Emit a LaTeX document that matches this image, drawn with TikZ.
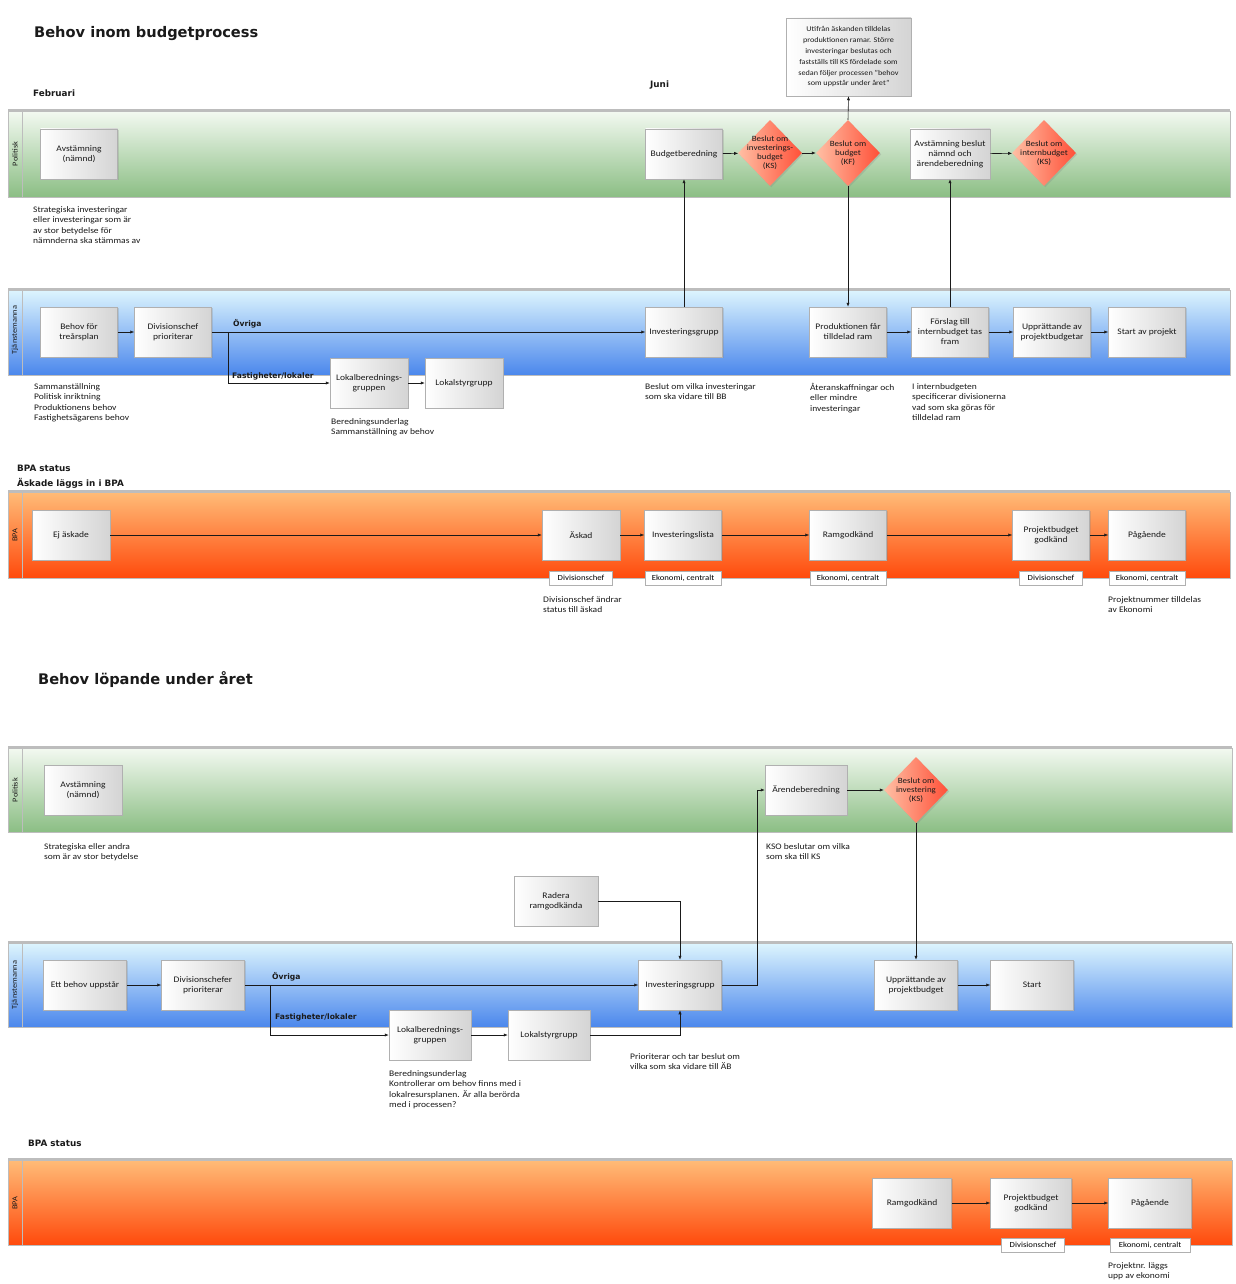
\documentclass[tikz,border=0pt]{standalone}
\usepackage{fontspec}
\setmainfont{Carlito}[FakeStretch=1.12]
\newfontfamily\headfont{DejaVu Sans}
\usepackage{tikz}
\usetikzlibrary{arrows.meta, positioning, shapes.geometric, shadows}
\definecolor{Dark}{HTML}{1A1A1A}
\definecolor{BoxLine}{HTML}{B0B0B0}
\definecolor{BoxGray}{HTML}{D4D4D4}
\definecolor{LaneLine}{HTML}{BDBDBD}
\definecolor{GreenTop}{HTML}{F3F9F1}
\definecolor{GreenBot}{HTML}{8BBE84}
\definecolor{BlueTop}{HTML}{DDF5FE}
\definecolor{BlueBot}{HTML}{4B87EC}
\definecolor{OrangeTop}{HTML}{FFBC78}
\definecolor{OrangeBot}{HTML}{FF4A0C}
\definecolor{DiaLight}{HTML}{FFBFA4}
\definecolor{DiaDark}{HTML}{FF5038}
\tikzset{
  box/.style={
    rectangle, draw=BoxLine, line width=0.5pt,
    left color=white, right color=BoxGray,
    minimum width=#1, minimum height=50,
    align=center, inner sep=1pt, text=Dark,
    font=\fontsize{8.5}{10}\selectfont,
    drop shadow={shadow xshift=1.3pt, shadow yshift=-1.3pt, opacity=0.25}
  },
  box/.default=77,
  dia/.style={
    diamond, draw=none, left color=DiaLight, right color=DiaDark,
    minimum width=64, minimum height=66, inner sep=0pt,
    drop shadow={shadow xshift=1.3pt, shadow yshift=-1.3pt, opacity=0.25}
  },
  diatext/.style={align=center, inner sep=0pt, text=Dark, font=\fontsize{8}{9}\selectfont},
  tag/.style={
    rectangle, draw=BoxLine, fill=white, line width=0.5pt,
    minimum width=#1, minimum height=14, inner sep=1pt,
    font=\fontsize{7.8}{8.5}\selectfont
  },
  tag/.default=63,
  note/.style={anchor=north west, inner sep=0pt, align=left, text=Dark, font=\fontsize{8.5}{10.6}\selectfont},
  flowlbl/.style={anchor=south west, inner sep=0pt, text=Dark, font=\headfont\bfseries\fontsize{7.6}{8}\selectfont},
  period/.style={anchor=west, inner sep=0pt, text=Dark, font=\headfont\bfseries\fontsize{8.8}{10}\selectfont},
  heading/.style={anchor=west, inner sep=0pt, text=Dark, font=\headfont\bfseries\fontsize{14.6}{17}\selectfont},
  lanelbl/.style={rotate=90, inner sep=0pt, text=Dark, font=\fontsize{7.5}{8}\selectfont},
  arr/.style={-{Latex[length=4pt, width=3.2pt]}, line width=0.6pt, color=Dark},
  plain/.style={line width=0.6pt, color=Dark},
}
\begin{document}
\begin{tikzpicture}[x=1pt, y=-1pt]
\useasboundingbox (0,0) rectangle (1235,1284);
\fill[white] (0,0) rectangle (1235,1284);

% ---------- Behov inom budgetprocess ----------
\node[heading] (title1) at (34,34) {Behov inom budgetprocess};
\node[period] (feb) at (33,93) {Februari};
\node[period] (jun) at (650,85) {Juni};

% lanes
\shade[top color=GreenTop, bottom color=GreenBot] (8,111) rectangle (1230,197);
\draw[LaneLine] (8,111) rectangle (1230,197) (22,111) -- (22,197);
\draw[LaneLine, line width=1.2pt] (8,110) -- (1230,110);
\node[lanelbl] (lane1) at (15,154) {Politisk};

\shade[top color=BlueTop, bottom color=BlueBot] (8,290) rectangle (1230,375);
\draw[LaneLine] (8,290) rectangle (1230,375) (22,290) -- (22,375);
\draw[LaneLine, line width=1.2pt] (8,289) -- (1230,289);
\node[lanelbl] (lane2) at (15,330) {Tjänstemanna};

\shade[top color=OrangeTop, bottom color=OrangeBot] (8,492) rectangle (1230,578);
\draw[LaneLine] (8,492) rectangle (1230,578) (22,492) -- (22,578);
\draw[LaneLine, line width=1.2pt] (8,491) -- (1230,491);
\node[lanelbl] (lane3) at (15,535) {BPA};

% Politisk
\node[box] (avst1) at (79,154) {Avstämning\\(nämnd)};
\node[box] (budg) at (684,154) {Budgetberedning};
\node[dia] (dinv) at (770,153) {};
\node[diatext] at (dinv) {Beslut om\\investerings-\\budget\\(KS)};
\node[dia] (dbud) at (848,153) {};
\node[diatext] at (dbud) {Beslut om\\budget\\(KF)};
\node[box=80] (avbes) at (950,154) {Avstämning beslut\\nämnd och\\ärendeberedning};
\node[dia] (dint) at (1044,153) {};
\node[diatext] at (dint) {Beslut om\\internbudget\\(KS)};
\node[box=125, minimum height=78, font=\fontsize{7.3}{10.8}\selectfont] (info) at (848.5,57)
  {Utifrån äskanden tilldelas\\produktionen ramar. Större\\investeringar beslutas och\\fastställs till KS fördelade som\\sedan följer processen "behov\\som uppstår under året"};

\node[note] (n1) at (33,206) {Strategiska investeringar\\eller investeringar som är\\av stor betydelse för\\nämnderna ska stämmas av};

% Tjänstemanna
\node[box] (beh1) at (79,332) {Behov för\\treårsplan};
\node[box] (div1) at (173,332) {Divisionschef\\prioriterar};
\node[box] (invg1) at (684,332) {Investeringsgrupp};
\node[box] (prod) at (848,332) {Produktionen får\\tilldelad ram};
\node[box] (fors) at (950,332) {Förslag till\\internbudget tas\\fram};
\node[box] (upp1) at (1052,332) {Upprättande av\\projektbudgetar};
\node[box] (start1) at (1147,332) {Start av projekt};
\node[box=78] (lber1) at (369,383) {Lokalberednings-\\gruppen};
\node[box=78] (lsty1) at (464,383) {Lokalstyrgrupp};
\coordinate (fork1) at (228,332);

\node[flowlbl] (ovr1) at (233,328) {Övriga};
\node[flowlbl] (fast1) at (232,380) {Fastigheter/lokaler};

\node[note] (n2) at (34,383) {Sammanställning\\Politisk inriktning\\Produktionens behov\\Fastighetsägarens behov};
\node[note] (n3) at (331,418) {Beredningsunderlag\\Sammanställning av behov};
\node[note] (n4) at (645,383) {Beslut om vilka investeringar\\som ska vidare till BB};
\node[note] (n5) at (810,383) {Återanskaffningar och\\eller mindre\\investeringar};
\node[note] (n6) at (912,383) {I internbudgeten\\specificerar divisionerna\\vad som ska göras för\\tilldelad ram};

% BPA
\node[period] (bpa1) at (17,468) {BPA status};
\node[period] (bpa1b) at (17,483) {Äskade läggs in i BPA};
\node[box=78] (ejask) at (71,535) {Ej äskade};
\node[box=78] (askad) at (581,535) {Äskad};
\node[box] (invl) at (683,535) {Investeringslista};
\node[box] (ram1) at (848,535) {Ramgodkänd};
\node[box] (pbud1) at (1051,535) {Projektbudget\\godkänd};
\node[box] (pag1) at (1147,535) {Pågående};
\node[tag] (t1) at (581,578) {Divisionschef};
\node[tag=76] (t2) at (683,578) {Ekonomi, centralt};
\node[tag=76] (t3) at (848,578) {Ekonomi, centralt};
\node[tag] (t4) at (1051,578) {Divisionschef};
\node[tag=76] (t5) at (1147,578) {Ekonomi, centralt};
\node[note] (n7) at (543,596) {Divisionschef ändrar\\status till äskad};
\node[note] (n8) at (1108,596) {Projektnummer tilldelas\\av Ekonomi};

% connectors
\draw[arr] (budg) -- (dinv);
\draw[arr] (dinv) -- (dbud);
\draw[arr] (avbes) -- (dint);
\draw[arr] (dbud.north) -- (info.south);
\draw[arr] (dbud.south) -- (prod.north);
\draw[arr] (invg1.north) -- (budg.south);
\draw[arr] (fors.north) -- (avbes.south);
\draw[arr] (beh1) -- (div1);
\draw[arr] (div1.east) -- (invg1.west);
\draw[arr] (fork1) |- (lber1.west);
\draw[arr] (lber1) -- (lsty1);
\draw[arr] (prod) -- (fors);
\draw[arr] (fors) -- (upp1);
\draw[arr] (upp1) -- (start1);
\draw[arr] (ejask) -- (askad);
\draw[arr] (askad) -- (invl);
\draw[arr] (invl) -- (ram1);
\draw[arr] (ram1) -- (pbud1);
\draw[arr] (pbud1) -- (pag1);

% ---------- Behov löpande under året ----------
\node[heading] (title2) at (38,680) {Behov löpande under året};

\shade[top color=GreenTop, bottom color=GreenBot] (8,748) rectangle (1232,832);
\draw[LaneLine] (8,748) rectangle (1232,832) (22,748) -- (22,832);
\draw[LaneLine, line width=1.2pt] (8,747) -- (1232,747);
\node[lanelbl] (lane4) at (15,790) {Politisk};

\shade[top color=BlueTop, bottom color=BlueBot] (8,943) rectangle (1232,1027);
\draw[LaneLine] (8,943) rectangle (1232,1027) (22,943) -- (22,1027);
\draw[LaneLine, line width=1.2pt] (8,942) -- (1232,942);
\node[lanelbl] (lane5) at (15,985) {Tjänstemanna};

\shade[top color=OrangeTop, bottom color=OrangeBot] (8,1160) rectangle (1232,1245);
\draw[LaneLine] (8,1160) rectangle (1232,1245) (22,1160) -- (22,1245);
\draw[LaneLine, line width=1.2pt] (8,1159) -- (1232,1159);
\node[lanelbl] (lane6) at (15,1203) {BPA};

% Politisk
\node[box=78] (avst2) at (83,790) {Avstämning\\(nämnd)};
\node[box=82] (arend) at (806,790) {Ärendeberedning};
\node[dia] (dbesl) at (916,790) {};
\node[diatext] at (dbesl) {Beslut om\\investering\\(KS)};
\node[note] (m1) at (44,843) {Strategiska eller andra\\som är av stor betydelse};
\node[note] (m2) at (766,843) {KSO beslutar om vilka\\som ska till KS};
\node[box=84] (rader) at (556,901) {Radera\\ramgodkända};

% Tjänstemanna
\node[box=83] (beh2) at (85,985) {Ett behov uppstår};
\node[box=83] (div2) at (203,985) {Divisionschefer\\prioriterar};
\node[box=83] (invg2) at (680,985) {Investeringsgrupp};
\node[box=83] (upp2) at (916,985) {Upprättande av\\projektbudget};
\node[box=83] (start2) at (1032,985) {Start};
\node[box=82] (lber2) at (430,1035) {Lokalberednings-\\gruppen};
\node[box=82] (lsty2) at (549,1035) {Lokalstyrgrupp};
\coordinate (fork2) at (270,985);

\node[flowlbl] (ovr2) at (272,981) {Övriga};
\node[flowlbl] (fast2) at (275,1021) {Fastigheter/lokaler};

\node[note] (m3) at (389,1070) {Beredningsunderlag\\ Kontrollerar om behov finns med i\\lokalresursplanen. Är alla berörda\\med i processen?};
\node[note] (m4) at (630,1053) {Prioriterar och tar beslut om\\vilka som ska vidare till ÄB};

% BPA
\node[period] (bpa2) at (28,1143) {BPA status};
\node[box=79] (ram2) at (912,1203) {Ramgodkänd};
\node[box=81] (pbud2) at (1031,1203) {Projektbudget\\godkänd};
\node[box=83] (pag2) at (1150,1203) {Pågående};
\node[tag] (t6) at (1033,1245) {Divisionschef};
\node[tag=80] (t7) at (1150,1245) {Ekonomi, centralt};
\node[note] (m5) at (1108,1262) {Projektnr. läggs\\upp av ekonomi};

% connectors
\draw[arr] (arend) -- (dbesl);
\draw[arr] (invg2.east) -- ++(36,0) |- (arend.west);
\draw[arr] (dbesl.south) -- (upp2.north);
\draw[arr] (rader.east) -| (invg2.north);
\draw[arr] (beh2) -- (div2);
\draw[arr] (div2.east) -- (invg2.west);
\draw[arr] (fork2) |- (lber2.west);
\draw[arr] (lber2) -- (lsty2);
\draw[arr] (lsty2.east) -| (invg2.south);
\draw[arr] (upp2) -- (start2);
\draw[arr] (ram2) -- (pbud2);
\draw[arr] (pbud2) -- (pag2);

\end{tikzpicture}
\end{document}
